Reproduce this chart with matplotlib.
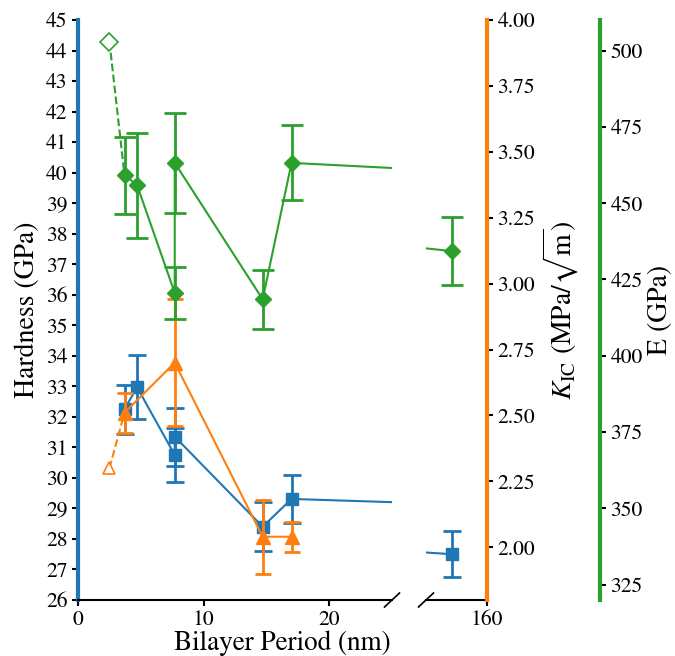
import numpy as np
import matplotlib.pyplot as plt
from matplotlib.lines import Line2D

plt.rcParams['font.family'] = 'STIXGeneral'
plt.rcParams['mathtext.fontset'] = 'stix'

blue = '#1f77b4'
orange = '#ff7f0e'
green = '#2ca02c'

# bilayer period (nm), last point sits past the axis break
period = [3.7, 4.7, 7.7, 7.7, 14.7, 17.0, 154.2]
hardness = [32.25, 32.97, 30.75, 31.35, 28.4, 29.31, 27.5]
hardness_err = [0.8, 1.05, 0.88, 0.95, 0.8, 0.8, 0.75]
modulus = [459.2, 455.9, 420.6, 463.2, 418.5, 463.2, 434.3]
modulus_err = [12.6, 17.2, 8.6, 16.4, 9.7, 12.3, 11.2]

k_period = [3.7, 7.7, 14.7, 17.0]
k_ic = [2.51, 2.70, 2.04, 2.04]
k_ic_err = [0.075, 0.24, 0.14, 0.057]

# thinnest period, shown open with a dashed link
open_period = 2.5
open_modulus = 502.9
open_k_ic = 2.30

h_ticks = list(range(26, 46))
k_ticks = [2.00, 2.25, 2.50, 2.75, 3.00, 3.25, 3.50, 3.75, 4.00]
e_ticks = [325, 350, 375, 400, 425, 450, 475, 500]

fig = plt.figure(figsize=(6.75, 6.56), dpi=100)
ax1 = fig.add_axes([0.1156, 0.0854, 0.4652, 0.8841])
ax2 = fig.add_axes([0.6311, 0.0854, 0.0904, 0.8841], sharey=ax1)
ax1k = ax1.twinx()
ax1e = ax1.twinx()
ax2k = ax2.twinx()
ax2e = ax2.twinx()


def draw(ax_h, ax_k, ax_e):
    ax_h.errorbar(period, hardness, yerr=hardness_err, color=blue, marker='s', ms=8.5,
                  lw=1.5, elinewidth=2, capsize=6.5, capthick=2)
    ax_k.errorbar(k_period, k_ic, yerr=k_ic_err, color=orange, marker='^', ms=9.5,
                  lw=1.5, elinewidth=2, capsize=5.5, capthick=2)
    ax_k.plot([open_period, k_period[0]], [open_k_ic, k_ic[0]], '--', color=orange, lw=1.5)
    ax_k.plot([open_period], [open_k_ic], '^', ms=9, mfc='white', mec=orange, mew=1.2, zorder=3)
    ax_e.errorbar(period, modulus, yerr=modulus_err, color=green, marker='D', ms=8.5,
                  lw=1.5, elinewidth=2, capsize=8, capthick=2)
    ax_e.plot([open_period, period[0]], [open_modulus, modulus[0]], '--', color=green, lw=1.5)
    ax_e.plot([open_period], [open_modulus], 'D', ms=9, mfc='white', mec=green, mew=1.2, zorder=3)


draw(ax1, ax1k, ax1e)
draw(ax2, ax2k, ax2e)

for a in (ax1k, ax2k):
    a.set_ylim(1.8, 4.0)
for a in (ax1e, ax2e):
    a.set_ylim(320, 510)
ax1.set_ylim(26, 45)
ax1.set_xlim(0, 25)
ax2.set_xlim(150, 160)

ax1k.set_axis_off()
ax1e.set_axis_off()

# left panel
ax1.set_yticks(h_ticks)
ax1.set_xticks([0, 10, 20])
for s in ('top', 'right'):
    ax1.spines[s].set_visible(False)
ax1.spines['left'].set_color(blue)
ax1.spines['left'].set_linewidth(3)
ax1.spines['bottom'].set_linewidth(1.5)
ax1.tick_params(direction='out', length=4, width=1.5, labelsize=15.5)
ax1.set_ylabel('Hardness (GPa)', fontsize=20, labelpad=4)
# x label is centred under both panels
ax1.set_xlabel('Bilayer Period (nm)', fontsize=19.5, labelpad=0)
ax1.xaxis.label.set_x(0.651)

# right panel
ax2.set_xticks([160])
for s in ('top', 'right', 'left'):
    ax2.spines[s].set_visible(False)
ax2.spines['bottom'].set_linewidth(1.5)
ax2.tick_params(axis='x', direction='out', length=4, width=1.5, labelsize=15.5)
ax2.tick_params(axis='y', left=False, labelleft=False)

for a in (ax2k, ax2e):
    for s in ('top', 'left', 'bottom'):
        a.spines[s].set_visible(False)
    a.tick_params(direction='out', length=4, width=1.5, labelsize=15.5)

ax2k.spines['right'].set_color(orange)
ax2k.spines['right'].set_linewidth(3)
ax2k.set_yticks(k_ticks)
ax2k.set_yticklabels([f'{v:.2f}' for v in k_ticks])
ax2k.set_ylabel(r'$K_{\mathrm{IC}}$ (MPa/$\sqrt{\mathrm{m}}$)', fontsize=20)

ax2e.spines['right'].set_position(('axes', 2.85))
ax2e.spines['right'].set_color(green)
ax2e.spines['right'].set_linewidth(3)
ax2e.set_yticks(e_ticks)
ax2e.set_ylabel('E (GPa)', fontsize=20)

# axis break marks
W, H = 675, 656
for xc in (392, 426):
    fig.add_artist(Line2D([(xc - 7.5) / W, (xc + 7.5) / W],
                          [(H - 607) / H, (H - 593) / H],
                          color='k', lw=1.2, transform=fig.transFigure))

fig.savefig('out.png', dpi=100)
